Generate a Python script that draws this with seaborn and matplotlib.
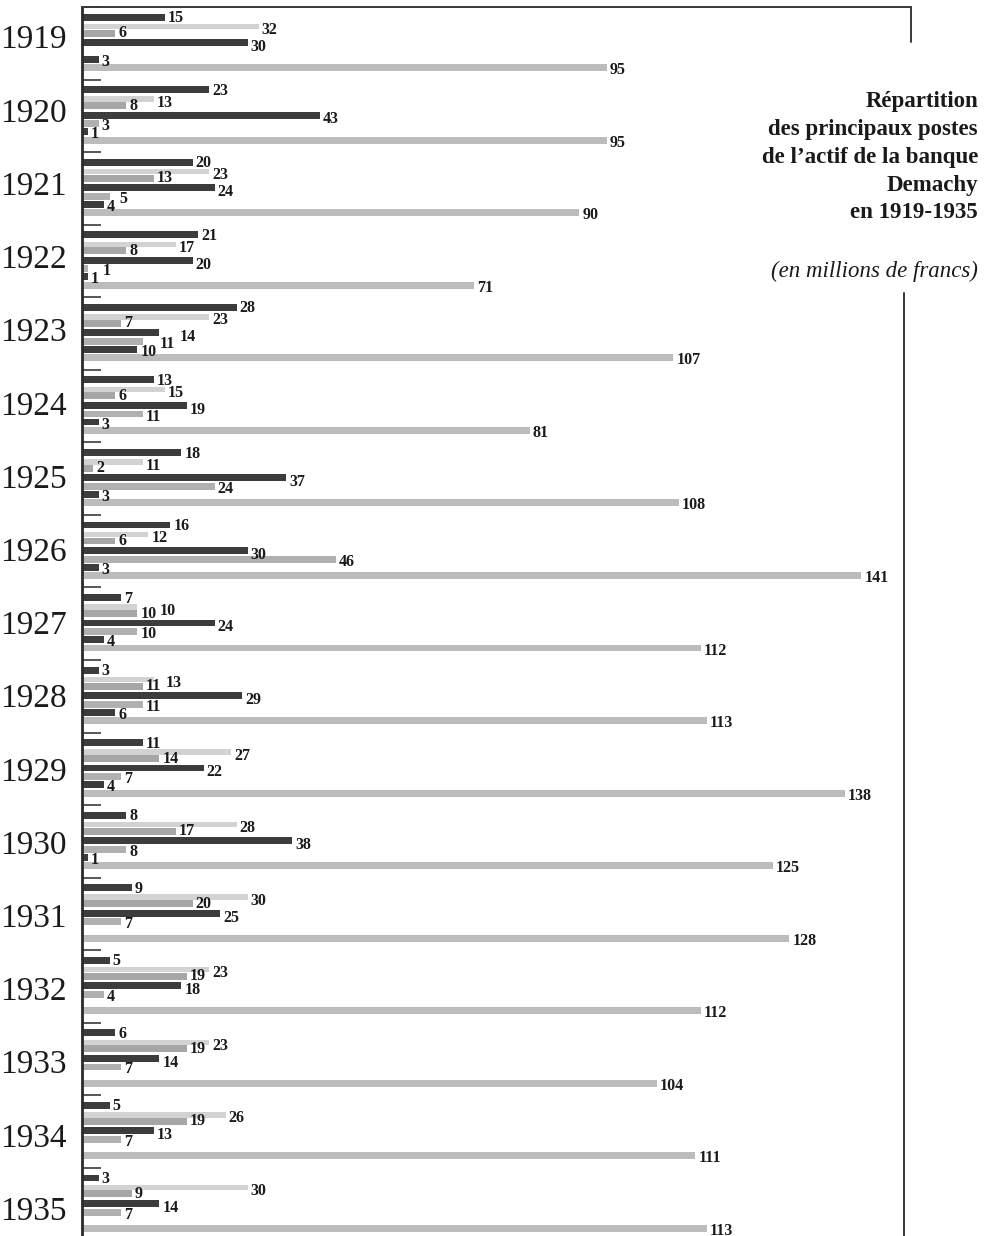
import numpy as np
import pandas as pd
import matplotlib
matplotlib.use("Agg")
import matplotlib.pyplot as plt
import seaborn as sns

# Demachy bank: main asset items, 1919-1935 (millions of francs)
years = list(range(1919, 1936))
s1_dark = [15, 23, 20, 21, 28, 13, 18, 16, 7, 3, 11, 8, 9, 5, 6, 5, 3]
s2_light = [6, 8, 13, 8, 7, 6, 2, 6, 10, 11, 14, 17, 20, 19, 19, 19, 9]
s3_faint = [32, 13, 23, 17, 23, 15, 11, 12, 10, 13, 27, 28, 30, 23, 23, 26, 30]
s4_dark = [30, 43, 24, 20, 14, 19, 37, 30, 24, 29, 22, 38, 25, 18, 14, 13, 14]
s5_light = [0, 3, 5, 1, 11, 11, 24, 46, 10, 11, 7, 8, 7, 4, 7, 7, 7]
s6_dark = [3, 1, 4, 1, 10, 3, 3, 3, 4, 6, 4, 1, 0, 0, 0, 0, 0]
s7_total = [95, 95, 90, 71, 107, 81, 108, 141, 112, 113, 138, 125, 128, 112, 104, 111, 113]

title_lines = ["Répartition", "des principaux postes", "de l\u2019actif de la banque",
               "Demachy", "en 1919-1935"]
subtitle = "(en millions de francs)"

# series name -> (values, row offset in group, bar height, colour, label nudge)
series = {
    "s1": (s1_dark, 0.14, 0.095, "#3c3c3c", 0.015),
    "s3": (s3_faint, 0.27, 0.075, "#d2d2d2", 0.05),
    "s2": (s2_light, 0.36, 0.095, "#a6a6a6", 0.0),
    "s4": (s4_dark, 0.49, 0.095, "#3c3c3c", 0.06),
    "s5": (s5_light, 0.61, 0.095, "#b0b0b0", 0.035),
    "s6": (s6_dark, 0.72, 0.095, "#3c3c3c", 0.035),
    "s7": (s7_total, 0.835, 0.095, "#bcbcbc", 0.035),
}

rows = []
for name, (vals, off, h, col, nudge) in series.items():
    for yr, v in zip(years, vals):
        rows.append({"series": name, "year": yr, "pos": yr + off, "value": v})
df = pd.DataFrame(rows)

sns.set_theme(style="white")
plt.rcParams["font.family"] = ["Liberation Serif", "DejaVu Serif"]

W, H = 991, 1236
fig = plt.figure(figsize=(W / 100, H / 100), dpi=100)
ax_left, ax_right, ax_top = 82, 911, 7
ax = fig.add_axes([ax_left / W, 0, (ax_right - ax_left) / W, 1 - ax_top / H])

XMAX = 150
YSPAN = len(years) - 1 + 0.94
for name, (vals, off, h, col, nudge) in series.items():
    sub = df[df["series"] == name]
    sns.barplot(data=sub, x="value", y="pos", orient="y", native_scale=True,
                width=h, color=col, saturation=1, errorbar=None,
                linewidth=0, ax=ax)

ax.set_xlim(0, XMAX)
ax.set_ylim(years[-1] + 0.94, years[0])

px_x = (ax_right - ax_left) / XMAX        # pixels per value unit
px_y = (H - ax_top) / YSPAN               # pixels per group
DIGIT_W = 7.8                             # label digit width, px
LABEL_H = 10.0                            # minimum vertical clearance, px

# value labels at the end of each bar; a label that would run into one on a
# lower row is pushed to the right of it
for i, yr in enumerate(years):
    placed = []  # (x0, x1, y) in px
    order = sorted(series.items(), key=lambda kv: -kv[1][1])
    for name, (vals, off, h, col, nudge) in order:
        v = vals[i]
        if v == 0:
            continue
        w = len(str(v)) * DIGIT_W
        x0 = v * px_x + 3
        y = (off + nudge) * px_y
        moved = True
        while moved:
            moved = False
            for (a0, a1, ay) in placed:
                if abs(ay - y) < LABEL_H and x0 < a1 + 2 and x0 + w > a0 - 2:
                    x0 = a1 + 4
                    moved = True
        placed.append((x0, x0 + w, y))
        ax.text(x0 / px_x, yr + off + nudge, str(v), fontsize=11.5,
                fontweight="bold", color="#1a1a1a", va="center", ha="left",
                clip_on=False)

# year labels
ax.set_yticks([y + 0.41 + 0.009 * k for k, y in enumerate(years)])
ax.set_yticklabels([str(y) for y in years], fontsize=24, color="#1a1a1a")
ax.tick_params(axis="y", which="major", length=0, pad=11)
ax.set_yticks([y for y in years], minor=True)
ax.tick_params(axis="y", which="minor", direction="in", length=14, width=1.3,
               color="#4a4a4a", left=True)
ax.set_xticks([])
ax.set_xlabel("")
ax.set_ylabel("")

for side in ("bottom", "right"):
    ax.spines[side].set_visible(False)
ax.spines["left"].set_color("#2a2a2a")
ax.spines["left"].set_linewidth(2.0)
ax.spines["top"].set_color("#3a3a3a")
ax.spines["top"].set_linewidth(1.4)

# right-hand frame, interrupted where the caption sits
ax.axvline(XMAX, ymin=1 - (42 - ax_top) / (H - ax_top), ymax=1, color="#3a3a3a",
           lw=1.4, clip_on=False)
ax.axvline(XMAX - 7 / px_x, ymin=0, ymax=1 - (293 - ax_top) / (H - ax_top),
           color="#3a3a3a", lw=1.4, clip_on=False)

# caption
tx = 978 / W
line_y = [102, 130, 158, 185, 212]
for t, yy in zip(title_lines, line_y):
    fig.text(tx, 1 - yy / H, t, ha="right", va="center", fontsize=16.5,
             fontweight="bold", color="#1a1a1a")
fig.text(tx, 1 - 271 / H, subtitle, ha="right", va="center", fontsize=16.5,
         style="italic", color="#1a1a1a")

fig.savefig("out.png", dpi=100)
